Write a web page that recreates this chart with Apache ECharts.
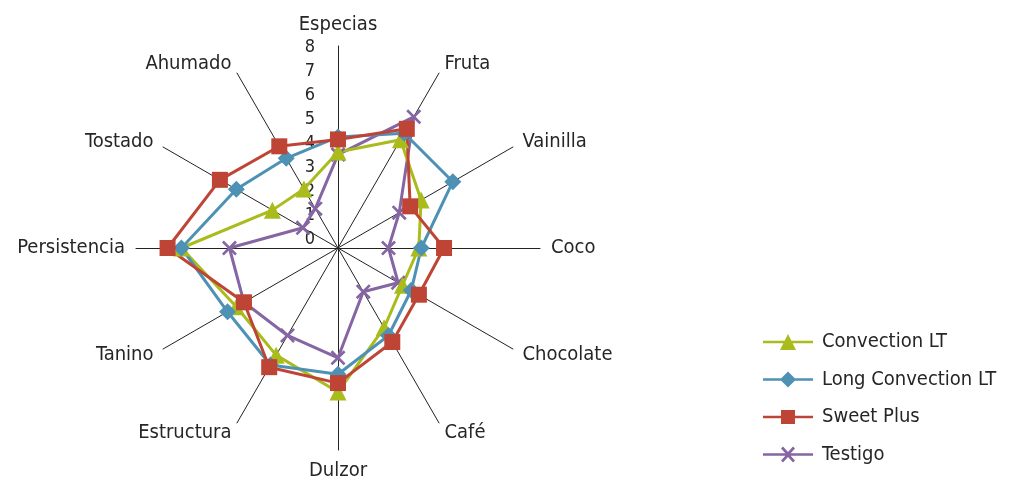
<!DOCTYPE html>
<html>
<head>
<meta charset="utf-8">
<script src="https://cdn.jsdelivr.net/npm/echarts@6/dist/echarts.min.js"></script>
<style>html,body{margin:0;padding:0;background:#fff;}#c{width:1011px;height:481px;}</style>
</head>
<body>
<div id="c"></div>
<script>
// clockwise from top
var categories = ['Especias','Fruta','Vainilla','Coco','Chocolate','Café','Dulzor','Estructura','Tanino','Persistencia','Tostado','Ahumado'];
var convectionLT = [3.8, 4.95, 3.8, 3.2, 2.95, 3.65, 5.7, 4.9, 4.65, 6.2, 3.0, 2.7];
var longConvectionLT = [4.4, 5.25, 5.25, 3.3, 3.35, 4.0, 5.0, 5.35, 5.05, 6.2, 4.65, 4.1];
var sweetPlus = [4.3, 5.45, 3.3, 4.2, 3.7, 4.3, 5.35, 5.45, 4.3, 6.75, 5.4, 4.65];
var testigo = [3.7, 6.0, 2.8, 2.0, 2.75, 2.0, 4.35, 4.0, 4.3, 4.3, 1.6, 1.8];
var tickLabels = ['0','1','2','3','4','5','6','7','8'];
var axisMax = 8;

var FONT = '"Liberation Sans Narrow","DejaVu Sans Condensed",sans-serif';
// ECharts places radar indicators counter-clockwise; reorder to clockwise
function ccw(arr){ return [arr[0]].concat(arr.slice(1).reverse()); }
var cats = ccw(categories);

var xPath = 'path://M0,2.5 L2.5,0 L10,7.5 L17.5,0 L20,2.5 L12.5,10 L20,17.5 L17.5,20 L10,12.5 L2.5,20 L0,17.5 L7.5,10 Z';

// legend icons: line + marker, bbox 50x16
var LINE = 'M0,6.8 L50,6.8 L50,9.2 L0,9.2 Z ';
var legIcons = {
  'Convection LT': 'path://' + LINE + 'M25,0 L33,16 L17,16 Z',
  'Long Convection LT': 'path://' + LINE + 'M25,0 L33,8 L25,16 L17,8 Z',
  'Sweet Plus': 'path://' + LINE + 'M18,1 L32,1 L32,15 L18,15 Z M25,0 L25.01,0 L25.01,16 L25,16 Z',
  'Testigo': 'path://' + LINE + 'M18,2 L20,0 L25,5.5 L30,0 L32,2 L26.5,8 L32,14 L30,16 L25,10.5 L20,16 L18,14 L23.5,8 Z'
};

var green = '#AABB1C', blue = '#4D92B4', red = '#BE4535', purple = '#8565A2';

function mk(name, data, color, symbol, size){
  return {
    type: 'radar', name: name,
    symbol: symbol, symbolSize: size,
    lineStyle: {color: color, width: 3},
    itemStyle: {color: color},
    data: [{value: ccw(data), name: name}]
  };
}

var legendNames = ['Convection LT','Long Convection LT','Sweet Plus','Testigo'];

var chart = echarts.init(document.getElementById('c'), null, {renderer: 'canvas'});
chart.setOption({
  animation: false,
  backgroundColor: '#fff',
  legend: {
    orient: 'vertical', left: 758, top: 327,
    itemWidth: 50, itemHeight: 16, itemGap: 17.5,
    textStyle: {fontFamily: FONT, fontSize: 20, color: '#262626', padding: [0,0,0,4]},
    data: legendNames.map(function(n){ return {name: n, icon: legIcons[n]}; })
  },
  radar: {
    center: [338, 248], radius: 202, startAngle: 90,
    indicator: cats.map(function(n){ return {name: n, max: axisMax, min: 0}; }),
    splitNumber: 8,
    axisName: {color: '#262626', fontFamily: FONT, fontSize: 20},
    nameGap: 11,
    axisLine: {lineStyle: {color: '#222', width: 1}},
    splitLine: {show: false},
    splitArea: {show: false},
    axisTick: {show: false},
    axisLabel: {show: false}
  },
  polar: {center: [338, 239], radius: 192},
  angleAxis: {show: false, type: 'value', min: 0, max: 360, startAngle: 90},
  radiusAxis: {
    type: 'category', data: tickLabels, boundaryGap: false,
    axisLine: {show: false}, axisTick: {show: false}, splitLine: {show: false},
    axisLabel: {show: true, color: '#262626', fontFamily: FONT, fontSize: 18, margin: 23}
  },
  series: [
    mk('Testigo', testigo, purple, xPath, 15),
    mk('Convection LT', convectionLT, green, 'triangle', 17),
    mk('Long Convection LT', longConvectionLT, blue, 'diamond', 17),
    mk('Sweet Plus', sweetPlus, red, 'rect', 16)
  ]
});
</script>
</body>
</html>
